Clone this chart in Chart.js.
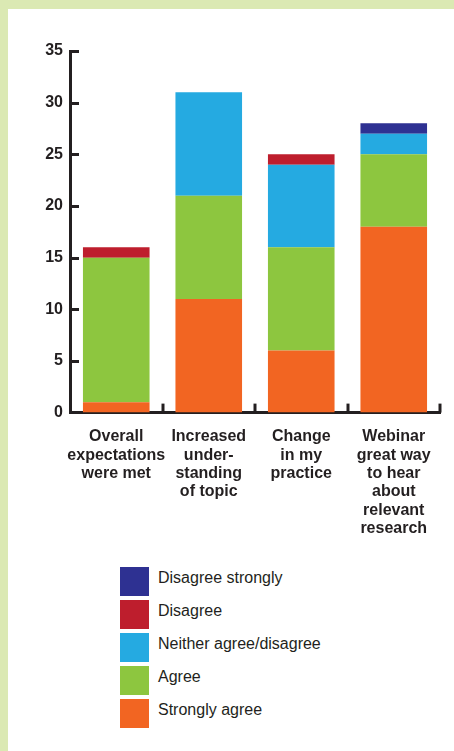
<!DOCTYPE html>
<html>
<head>
<meta charset="utf-8">
<script src="https://cdn.jsdelivr.net/npm/chart.js@4"></script>
<style>
  html, body { margin: 0; padding: 0; }
  body { width: 454px; height: 751px; background: #dbe9b3; position: relative; overflow: hidden; }
  #panel { position: absolute; left: 8px; top: 9px; right: 0; bottom: 0; background: #fff; }
  #wrap { position: absolute; left: 0; top: 0; width: 454px; height: 553px; }
  #legend { position: absolute; left: 120px; top: 567px; font-family: "Liberation Sans", Arial, sans-serif; font-size: 16px; color: #231f20; }
  .row { height: 33px; display: flex; align-items: flex-start; }
  .box { width: 29px; height: 29px; flex: none; }
  .txt { margin-left: 9px; line-height: 22px; }
</style>
</head>
<body>
<div id="panel"></div>
<div id="wrap"><canvas id="chart"></canvas></div>
<div id="legend"></div>
<script>
const categories = [
  ["Overall", "expectations", "were met"],
  ["Increased", "under-", "standing", "of topic"],
  ["Change", "in my", "practice"],
  ["Webinar", "great way", "to hear", "about", "relevant", "research"],
];
// bottom of each stack first
const stronglyAgree = [1, 11, 6, 18];
const agree = [14, 10, 10, 7];
const neither = [0, 10, 8, 2];
const disagree = [1, 0, 1, 0];
const disagreeStrongly = [0, 0, 0, 1];
const yTicks = [0, 5, 10, 15, 20, 25, 30, 35];

const ink = "#231f20";
const font = "'Liberation Sans', Arial, sans-serif";

const series = [
  { label: "Strongly agree", data: stronglyAgree, color: "#f26522" },
  { label: "Agree", data: agree, color: "#8dc63f" },
  { label: "Neither agree/disagree", data: neither, color: "#25aae1" },
  { label: "Disagree", data: disagree, color: "#be1e2d" },
  { label: "Disagree strongly", data: disagreeStrongly, color: "#2e3192" },
];

// short tick marks drawn inside the axes, like the print original
const innerTicks = {
  id: "innerTicks",
  afterDatasetsDraw(chart) {
    const { ctx, chartArea, scales } = chart;
    ctx.save();
    ctx.strokeStyle = ink;
    ctx.lineWidth = 3;
    scales.y.ticks.forEach((t) => {
      if (t.value === 0) return;
      const py = Math.round(scales.y.getPixelForValue(t.value)) + 0.5;
      ctx.beginPath();
      ctx.moveTo(chartArea.left, py);
      ctx.lineTo(chartArea.left + 9, py);
      ctx.stroke();
    });
    for (let i = 1; i <= categories.length; i++) {
      const px = Math.round(scales.x.getPixelForValue(i - 0.5));
      ctx.beginPath();
      ctx.moveTo(px, chartArea.bottom);
      ctx.lineTo(px, chartArea.bottom - 9);
      ctx.stroke();
    }
    ctx.restore();
  },
};

const chart = new Chart(document.getElementById("chart"), {
  type: "bar",
  data: {
    labels: categories,
    datasets: series.map((s) => ({
      label: s.label,
      data: s.data,
      backgroundColor: s.color,
      borderWidth: 0,
      barPercentage: 0.72,
      categoryPercentage: 1,
    })),
  },
  options: {
    responsive: true,
    maintainAspectRatio: false,
    animation: false,
    layout: { padding: { left: 0, right: 14, top: 51, bottom: 0 } },
    scales: {
      x: {
        stacked: true,
        grid: { display: false, drawTicks: false },
        border: { color: ink, width: 3 },
        ticks: {
          color: ink,
          padding: 15,
          maxRotation: 0,
          autoSkip: false,
          font: { family: font, size: 16, weight: "bold", lineHeight: 1.15 },
        },
      },
      y: {
        stacked: true,
        min: 0,
        max: 35,
        afterBuildTicks: (scale) => {
          scale.ticks = yTicks.map((v) => ({ value: v }));
        },
        afterFit: (scale) => {
          scale.width = 70;
        },
        grid: { display: false, drawTicks: false },
        border: { color: ink, width: 3 },
        ticks: {
          color: ink,
          padding: 7,
          font: { family: font, size: 16, weight: "bold" },
        },
      },
    },
    plugins: {
      legend: { display: false },
      tooltip: { enabled: false },
    },
  },
  plugins: [innerTicks],
});

// legend, top row is the last stack segment
const legend = document.getElementById("legend");
series.slice().reverse().forEach((s) => {
  const row = document.createElement("div");
  row.className = "row";
  row.innerHTML = '<div class="box" style="background:' + s.color + '"></div><div class="txt">' + s.label + "</div>";
  legend.appendChild(row);
});
</script>
</body>
</html>
